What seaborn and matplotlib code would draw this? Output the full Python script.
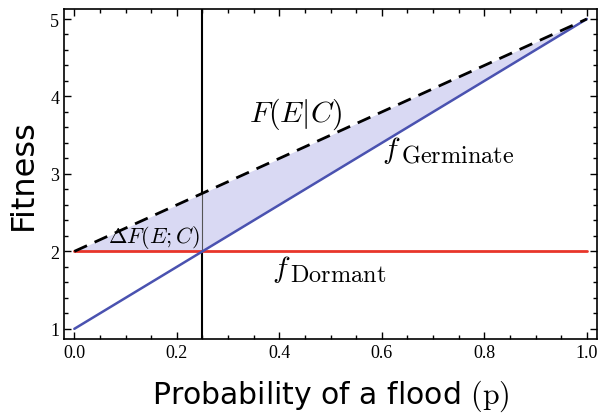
import numpy as np
import pandas as pd
import matplotlib
matplotlib.use('Agg')
import matplotlib.pyplot as plt
from matplotlib.ticker import MultipleLocator, FormatStrFormatter
import seaborn as sns

sns.set_style('ticks')
plt.rcParams['mathtext.fontset'] = 'cm'
plt.rcParams['text.color'] = 'black'
plt.rcParams['axes.labelcolor'] = 'black'
plt.rcParams['xtick.color'] = 'black'
plt.rcParams['ytick.color'] = 'black'

# flood probability and fitness values (end points plus the crossing point)
p = [0.0, 0.25, 1.0]
f_germinate = [1.0, 2.0, 5.0]
f_dormant = [2.0, 2.0, 2.0]
f_conditional = [2.0, 2.75, 5.0]
p_cross = 0.25

df = pd.DataFrame({'p': p, 'germ': f_germinate, 'dorm': f_dormant, 'cond': f_conditional})
df['best'] = df[['germ', 'dorm']].max(axis=1)

fig = plt.figure(figsize=(5.99, 4.14), dpi=100)
ax = fig.add_axes([0.107, 0.179, 0.8897, 0.797])

ax.axvline(p_cross, color='black', lw=1.5, zorder=1)
ax.fill_between(df['p'], df['best'], df['cond'], color='#d9d9f3', lw=0, zorder=2)
ax.vlines(p_cross, np.interp(p_cross, p, f_germinate), np.interp(p_cross, p, f_conditional),
          color='#555555', lw=0.8, zorder=3)

sns.lineplot(data=df, x='p', y='dorm', ax=ax, color='#e8352a', lw=2, zorder=4)
sns.lineplot(data=df, x='p', y='germ', ax=ax, color='#4a52b0', lw=1.8, zorder=4)
sns.lineplot(data=df, x='p', y='cond', ax=ax, color='black', lw=2, ls=(0, (5, 3)), zorder=5)

ax.text(0.432, 3.68, r'$F(E|C)$', fontsize=21.5, ha='center', va='baseline')
ax.text(0.156, 2.12, r'$\Delta F(E;C)$', fontsize=16, ha='center', va='baseline')
# f with a large upright subscript
ax.text(0.637, 3.22, r'$f$', fontsize=21.5, ha='right', va='baseline')
ax.text(0.637, 3.155, r'$\mathrm{Germinate}$', fontsize=17.5, ha='left', va='baseline')
ax.text(0.421, 1.684, r'$f$', fontsize=21.5, ha='right', va='baseline')
ax.text(0.421, 1.62, r'$\mathrm{Dormant}$', fontsize=17.5, ha='left', va='baseline')

ax.set_xlim(-0.02, 1.02)
ax.set_ylim(0.87, 5.13)
ax.xaxis.set_major_locator(MultipleLocator(0.2))
ax.xaxis.set_minor_locator(MultipleLocator(0.05))
ax.yaxis.set_major_locator(MultipleLocator(1))
ax.yaxis.set_minor_locator(MultipleLocator(0.2))
ax.xaxis.set_major_formatter(FormatStrFormatter('%.1f'))
ax.tick_params(which='both', direction='in', top=True, right=True, width=1)
ax.tick_params(which='major', length=5, labelsize=13, labelright=False, labeltop=False)
ax.tick_params(which='minor', length=3)
for lab in ax.get_xticklabels() + ax.get_yticklabels():
    lab.set_family('Liberation Serif')
for s in ax.spines.values():
    s.set_linewidth(1.2)
    s.set_color('black')

ax.set_xlabel(r'Probability of a flood $\mathrm{(p)}$', fontsize=21.5, labelpad=12)
ax.set_ylabel('Fitness', fontsize=23, labelpad=8)

fig.savefig('out.png', dpi=100)
